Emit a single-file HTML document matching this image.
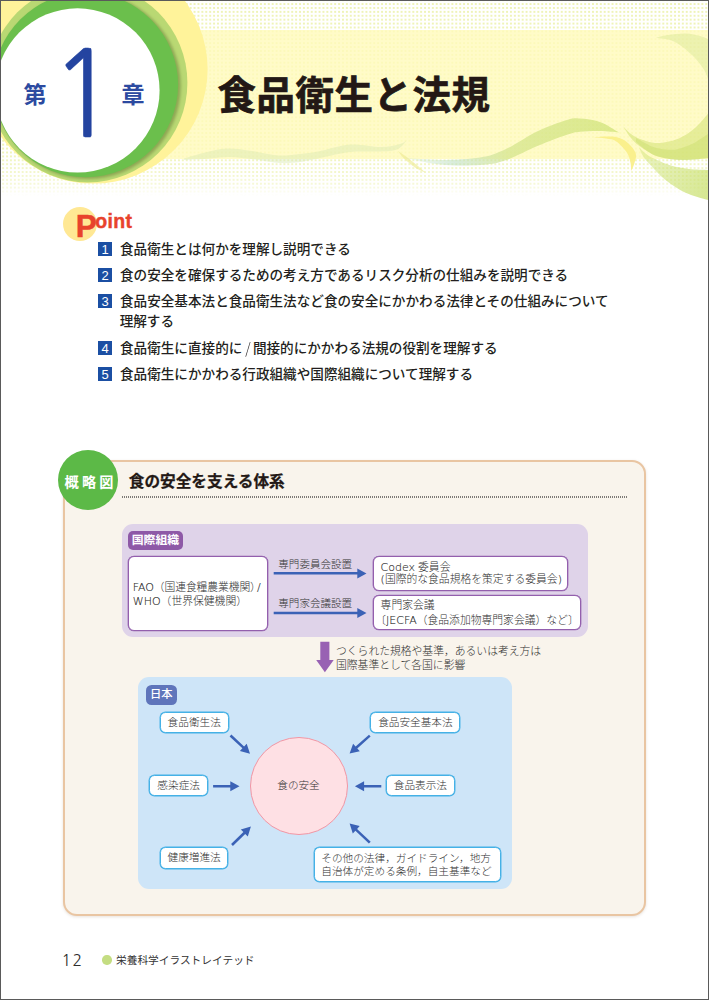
<!DOCTYPE html>
<html lang="ja">
<head>
<meta charset="utf-8">
<title>第1章 食品衛生と法規</title>
<style>
*{margin:0;padding:0;box-sizing:border-box;}
html,body{width:709px;height:1000px;overflow:hidden;background:#fff;}
body{position:relative;font-family:"Liberation Sans","Noto Sans CJK JP",sans-serif;color:#231f20;}
.abs{position:absolute;white-space:nowrap;}
#frame{position:absolute;left:0;top:0;width:709px;height:1000px;border:1px solid #5a5a5a;z-index:50;pointer-events:none;}
/* header */
#hdr{position:absolute;left:0;top:0;width:709px;height:200px;overflow:hidden;}
#dots{position:absolute;left:0;top:0;width:709px;height:196px;
 background-image:radial-gradient(circle at 50% 50%, #e3eb8a 0, #e6ed92 0.45px, rgba(232,238,150,0) 1.15px);
 background-size:3.92px 3.92px;background-position:1.2px 2.1px;
 -webkit-mask-image:linear-gradient(to bottom,#000 0,#000 150px,rgba(0,0,0,0.55) 185px,rgba(0,0,0,0) 196px);
 mask-image:linear-gradient(to bottom,#000 0,#000 150px,rgba(0,0,0,0.55) 185px,rgba(0,0,0,0) 196px);}
#band{position:absolute;left:150px;top:30px;width:559px;height:128.5px;background:rgba(255,250,186,0.8);}
#title{left:217.5px;top:66px;font-size:38.4px;font-weight:700;-webkit-text-stroke:0.7px #231815;line-height:60px;color:#231815;letter-spacing:0.6px;font-family:"Liberation Sans","Noto Sans CJK JP",sans-serif;}
.chap{color:#2c4aa0;font-weight:700;font-size:23px;line-height:31px;}
#one{left:50.3px;top:25.3px;font-size:118.6px;line-height:140px;color:#2444a0;font-family:"NanumGothic","IPAGothic",sans-serif;font-weight:400;transform:scaleX(0.94);transform-origin:0 0;-webkit-text-stroke:0.6px #2444a0;}
/* point */
#pcircle{position:absolute;left:63px;top:207px;width:34px;height:34px;border-radius:50%;background:#ffe894;}
#pP{left:75.8px;top:205.6px;font-size:31.5px;line-height:40px;font-weight:700;color:#e8432c;font-family:"Liberation Sans",sans-serif;transform:scaleX(1.0);transform-origin:0 0;-webkit-text-stroke:0.5px #e8432c;}
#pO{left:95.3px;top:207.6px;font-size:19.5px;line-height:26px;font-weight:700;color:#e8432c;font-family:"Liberation Sans",sans-serif;letter-spacing:0.3px;transform:scaleX(1.0);transform-origin:0 0;-webkit-text-stroke:0.4px #e8432c;}
.li{font-size:13.6px;line-height:20px;font-weight:500;left:120px;color:#231f20;}
.nb{position:absolute;left:98px;width:14px;height:14px;background:#1b4fa3;color:#fff;font-size:13px;line-height:15.6px;text-align:center;font-weight:400;font-family:"Liberation Sans",sans-serif;}
/* panel */
#panel{position:absolute;left:62.8px;top:460px;width:583.4px;height:456px;border:2px solid #e9c5a2;border-radius:14px;background:#f9f4ec;box-shadow:0 1px 3px rgba(120,90,60,0.18);}
#gcircle{position:absolute;left:57.8px;top:450.2px;width:60px;height:60px;border-radius:50%;background:#5cb947;}
#gtext{left:64.6px;top:470.6px;font-size:14.2px;line-height:22px;font-weight:700;color:#fff;letter-spacing:3.1px;}
#ptitle{left:128.8px;top:469.7px;font-size:15.65px;line-height:24px;font-weight:700;color:#231815;-webkit-text-stroke:0.25px #231815;}
#dotline{position:absolute;left:122px;top:496.2px;width:505px;height:1.6px;background:repeating-linear-gradient(to right,#7d7a76 0,#7d7a76 1px,rgba(125,122,118,0) 1px,rgba(125,122,118,0) 2px);}
#purple{position:absolute;left:122px;top:524.4px;width:466.3px;height:113px;border-radius:11px;background:#dfd3e9;}
#blue{position:absolute;left:138px;top:677px;width:373.7px;height:211.5px;border-radius:11px;background:#cee5f8;}
.tag{position:absolute;color:#fff;font-weight:500;font-size:12.2px;line-height:18px;text-align:center;border-radius:3px;}
.pbox{position:absolute;background:#fff;border:1px solid #935fad;border-radius:6px;box-shadow:0 0 0 0.35px #935fad;}
.bbox{position:absolute;background:#fff;border:1px solid #45b1e6;box-shadow:0 0 0 0.45px #45b1e6;border-radius:5.5px;font-size:10.65px;line-height:19.4px;text-align:center;font-weight:300;color:#2f2f2f;white-space:nowrap;}
.t{font-size:10.8px;line-height:14px;font-weight:300;color:#2f2f2f;}
.h{font-feature-settings:"halt" 1;}
.la{font-family:"DejaVu Sans","Liberation Sans",sans-serif;font-weight:200;font-size:11px;-webkit-text-stroke:0.12px #2f2f2f;color:#222;}
.lbl{font-size:10.55px;line-height:14px;font-weight:300;color:#333;}
#pink{position:absolute;left:250px;top:736.8px;width:98px;height:98px;border-radius:50%;background:#fee0e4;border:1.2px solid #f196a4;}
#foot12{left:61.4px;top:949.4px;font-size:15.8px;line-height:22px;font-weight:400;color:#2d2d2d;font-family:"NanumGothic","IPAGothic",sans-serif;letter-spacing:1.5px;}
#fdot{position:absolute;left:102.4px;top:955.3px;width:9.4px;height:9.4px;border-radius:50%;background:#c4dd82;}
#ftext{left:116px;top:951.4px;font-size:10.7px;line-height:18px;font-weight:400;color:#333;}
svg{position:absolute;left:0;top:0;overflow:visible;}
</style>
</head>
<body>
<div id="hdr">
 <div id="dots"></div>
 <div id="band"></div>
 <svg id="hsvg" width="709" height="200" viewBox="0 0 709 200">
  <defs>
   <filter id="sh" x="-20%" y="-20%" width="140%" height="140%"><feGaussianBlur stdDeviation="1.6"/></filter>
   <linearGradient id="sw1" gradientUnits="userSpaceOnUse" x1="400" y1="0" x2="619" y2="0"><stop offset="0" stop-color="#bfe0c8" stop-opacity="0.1"/><stop offset="0.25" stop-color="#bfe0c4" stop-opacity="0.6"/><stop offset="0.5" stop-color="#cbe080" stop-opacity="0.6"/><stop offset="1" stop-color="#c6de68" stop-opacity="0.62"/></linearGradient>
   <linearGradient id="sw3" gradientUnits="userSpaceOnUse" x1="639" y1="150" x2="709" y2="190"><stop offset="0" stop-color="#cbe070" stop-opacity="0.4"/><stop offset="1" stop-color="#c2dc5c" stop-opacity="0.66"/></linearGradient>
  </defs>
  <!-- swooshes -->
  <path d="M184.0 158.5 C187.5 157.5 197.8 154.2 205.0 152.5 C212.2 150.8 219.2 148.8 227.0 148.5 C234.8 148.2 243.5 149.8 252.0 151.0 C260.5 152.2 270.0 155.0 278.0 155.5 C286.0 156.0 293.3 154.7 300.0 154.0 C306.7 153.3 309.7 153.2 318.0 151.6 C326.3 150.0 339.5 145.3 350.0 144.5 C360.5 143.7 372.7 147.1 381.0 147.0 C389.3 146.9 395.7 145.2 400.0 144.0 C404.3 142.8 405.8 140.7 407.0 140.0 C405.3 141.6 401.5 147.7 397.0 149.6 C392.5 151.5 387.8 151.1 380.0 151.5 C372.2 151.9 360.0 150.9 350.0 152.0 C340.0 153.1 328.3 156.3 320.0 158.0 C311.7 159.7 306.7 161.2 300.0 162.0 C293.3 162.8 287.5 163.4 280.0 163.0 C272.5 162.6 263.3 160.5 255.0 159.5 C246.7 158.5 237.5 157.2 230.0 157.0 C222.5 156.8 217.7 158.0 210.0 158.5 C202.3 159.0 188.3 159.8 184.0 160.0 Z" fill="#d6e6b0" opacity="0.42"/>
  <path d="M398.0 151.0 C399.7 152.2 404.7 155.5 408.0 158.0 C411.3 160.5 415.0 163.5 418.0 166.0 C421.0 168.5 424.7 171.8 426.0 173.0 C424.2 172.1 418.7 169.9 415.0 167.5 C411.3 165.1 406.8 161.2 404.0 158.5 C401.2 155.8 399.0 152.2 398.0 151.0 Z" fill="#ece98c" opacity="0.6"/>
  <path d="M400.0 157.0 C406.7 157.5 426.7 159.9 440.0 160.0 C453.3 160.1 469.2 159.2 480.0 157.5 C490.8 155.8 495.3 153.9 505.0 149.5 C514.7 145.1 527.7 135.9 538.0 131.0 C548.3 126.1 560.0 122.1 567.0 120.0 C574.0 117.9 574.5 118.2 580.0 118.5 C585.5 118.8 593.5 119.7 600.0 122.0 C606.5 124.3 615.8 130.7 619.0 132.4 C615.8 132.2 606.5 131.1 600.0 131.0 C593.5 130.9 585.5 131.2 580.0 131.8 C574.5 132.4 574.0 132.5 567.0 134.8 C560.0 137.1 548.3 141.5 538.0 145.8 C527.7 150.1 514.7 157.3 505.0 160.5 C495.3 163.7 490.8 164.3 480.0 165.0 C469.2 165.7 453.3 165.8 440.0 164.5 C426.7 163.2 406.7 158.2 400.0 157.0 Z" fill="url(#sw1)"/>
  <path d="M591.0 137.3 C594.5 137.2 606.2 136.0 612.0 136.6 C617.8 137.2 621.6 138.3 625.5 141.0 C629.4 143.7 634.0 149.0 635.5 152.7 C637.0 156.4 635.2 159.9 634.5 163.0 C633.8 166.1 631.6 169.7 631.0 171.0 C630.9 169.7 631.2 166.1 630.5 163.0 C629.8 159.9 629.4 156.3 627.0 152.7 C624.6 149.1 619.9 143.9 616.4 141.5 C612.9 139.1 610.2 139.2 606.0 138.5 C601.8 137.8 593.5 137.5 591.0 137.3 Z" fill="#faee86" opacity="0.9"/>
  <path d="M656.0 37.7 C658.0 37.2 663.0 35.7 668.0 35.0 C673.0 34.3 680.7 33.3 686.0 33.5 C691.3 33.7 696.0 34.9 700.0 36.0 C704.0 37.1 708.3 39.3 710.0 40.0 L710.0 86.0  C709.1 83.5 707.6 76.0 704.6 70.8 C701.6 65.6 697.1 59.9 692.0 55.0 C686.9 50.1 680.0 44.4 674.0 41.5 C668.0 38.6 659.0 38.3 656.0 37.7 Z" fill="#d5e490" opacity="0.42"/>
  <path d="M623.3 126.4 C624.6 127.7 628.2 131.9 631.0 134.0 C633.8 136.1 636.5 137.6 640.0 139.0 C643.5 140.4 648.3 141.9 652.0 142.5 C655.7 143.1 658.0 143.2 662.0 142.7 C666.0 142.2 671.5 141.2 676.0 139.5 C680.5 137.8 685.0 135.4 689.0 132.7 C693.0 129.9 696.5 126.6 700.0 123.0 C703.5 119.4 708.3 113.0 710.0 111.0 L710.0 158.0  C705.3 158.3 690.7 160.3 682.0 160.0 C673.3 159.7 665.0 158.7 658.0 156.4 C651.0 154.1 644.5 149.5 640.0 146.4 C635.5 143.3 633.8 141.3 631.0 138.0 C628.2 134.7 624.6 128.3 623.3 126.4 Z" fill="#cde06c" opacity="0.5"/>
  <path d="M636.0 138.0 C638.7 139.4 647.0 144.6 652.0 146.5 C657.0 148.4 661.7 149.1 666.0 149.5 C670.3 149.9 673.3 150.1 678.0 149.0 C682.7 147.9 688.7 145.7 694.0 143.0 C699.3 140.3 707.3 134.4 710.0 132.7 L710.0 158.0  C705.3 158.3 690.7 160.3 682.0 160.0 C673.3 159.7 663.7 157.8 658.0 156.4 C652.3 155.0 651.7 153.9 648.0 151.5 C644.3 149.1 638.0 143.6 636.0 142.0 Z" fill="#bfd95c" opacity="0.33"/>
  <path d="M639.0 147.3 C640.0 148.2 642.7 151.2 645.0 153.0 C647.3 154.8 648.4 155.9 652.7 158.0 C657.0 160.1 665.0 163.7 671.0 165.5 C677.0 167.3 682.5 168.2 689.0 169.0 C695.5 169.8 706.5 169.8 710.0 170.0 L710.0 200.5  C705.9 199.2 692.9 196.1 685.5 192.7 C678.1 189.3 671.6 184.8 665.5 180.0 C659.4 175.2 652.8 167.6 649.0 163.6 C645.2 159.6 644.7 158.7 643.0 156.0 C641.3 153.3 639.7 148.8 639.0 147.3 Z" fill="url(#sw3)"/>
  </svg>
 <svg id="csvg" width="709" height="200" viewBox="0 0 709 200">
  <!-- circles -->
  <circle cx="93.2" cy="69.2" r="114.4" fill="#fff39a"/>
  <circle cx="87.8" cy="82.8" r="99.6" fill="#b9d873"/>
  <circle cx="87.8" cy="86" r="93" fill="#6b7f3a" opacity="0.55" filter="url(#sh)"/>
  <circle cx="85.6" cy="84.8" r="92.5" fill="#6bbf4c"/>
  <circle cx="77.5" cy="90.4" r="82.1" fill="#fff"/>
 </svg>
 <div class="abs chap" style="left:23.5px;top:80px;">第</div>
 <div class="abs" id="one">1</div>
 <div class="abs chap" style="left:121.5px;top:80px;">章</div>
 <div class="abs" id="title">食品衛生と法規</div>
</div>

<!-- Point -->
<div id="pcircle"></div>
<div class="abs" id="pP">P</div>
<div class="abs" id="pO">oint</div>
<div class="nb" style="top:241.8px;">1</div><div class="abs li" style="top:239.7px;">食品衛生とは何かを理解し説明できる</div>
<div class="nb" style="top:268.3px;">2</div><div class="abs li" style="top:266.2px;">食の安全を確保するための考え方であるリスク分析の仕組みを説明できる</div>
<div class="nb" style="top:293.8px;">3</div><div class="abs li" style="top:291.7px;">食品安全基本法と食品衛生法など食の安全にかかわる法律とその仕組みについて</div>
<div class="abs li" style="top:312.2px;left:119.7px;">理解する</div>
<div class="nb" style="top:340.8px;">4</div><div class="abs li" style="top:337.1px;">食品衛生に直接的に<span style="font-family:'Noto Sans CJK JP',sans-serif;font-weight:300;font-size:13.6px;display:inline-block;transform:scaleY(1.12);padding:0 2.4px 0 2.8px;">/</span>間接的にかかわる法規の役割を理解する</div>
<div class="nb" style="top:366.8px;">5</div><div class="abs li" style="top:364.7px;">食品衛生にかかわる行政組織や国際組織について理解する</div>

<!-- Panel -->
<div id="panel"></div>
<div id="gcircle"></div>
<div class="abs" id="gtext">概略図</div>
<div class="abs" id="ptitle">食の安全を支える体系</div>
<div id="dotline"></div>

<div id="purple"></div>
<div class="tag" style="left:128.2px;top:530.7px;width:54.6px;height:19.1px;line-height:18.8px;font-size:11.9px;font-weight:700;letter-spacing:0;border-radius:5px;background:#8e59a7;">国際組織</div>
<div class="pbox" style="left:127.7px;top:556px;width:140.8px;height:74.6px;"></div>
<div class="abs t" style="left:132.8px;top:580px;letter-spacing:-0.1px;"><span class="la">FAO</span>（国連食糧農業機関<span class="h">）</span><span class="la" style="margin-left:1.5px;">/</span></div>
<div class="abs t" style="left:132.8px;top:594px;"><span class="la">WHO</span>（世界保健機関）</div>
<div class="abs lbl" style="left:278.3px;top:556.9px;">専門委員会設置</div>
<div class="abs lbl" style="left:278.3px;top:596.3px;">専門家会議設置</div>
<div class="pbox" style="left:372.6px;top:556px;width:195.4px;height:34.8px;"></div>
<div class="abs t" style="left:380.6px;top:560px;"><span class="la">Codex</span> 委員会</div>
<div class="abs t" style="left:380.6px;top:572px;"><span class="la">(</span>国際的な食品規格を策定する委員会<span class="la">)</span></div>
<div class="pbox" style="left:372.6px;top:595.2px;width:208.4px;height:35px;"></div>
<div class="abs t" style="left:380.6px;top:598px;">専門家会議</div>
<div class="abs t" style="left:380.6px;top:612.6px;letter-spacing:0px;"><span class="h">〔</span><span class="la">JECFA</span>（食品添加物専門家会議）など<span class="h">〕</span></div>

<div class="abs t" style="left:336px;top:643.5px;">つくられた規格や基準，あるいは考え方は</div>
<div class="abs t" style="left:336px;top:657.5px;">国際基準として各国に影響</div>

<div id="blue"></div>
<div class="tag" style="left:145.6px;top:685px;width:31.4px;height:19.7px;background:#5f75bb;line-height:19.6px;font-size:11.3px;font-weight:500;border-radius:5.5px;">日本</div>
<div class="bbox" style="left:159.8px;top:711.6px;width:68.8px;height:21px;">食品衛生法</div>
<div class="bbox" style="left:149.3px;top:774.5px;width:58.7px;height:21.5px;">感染症法</div>
<div class="bbox" style="left:159.8px;top:847.3px;width:68.6px;height:21.4px;">健康増進法</div>
<div class="bbox" style="left:370.4px;top:711.6px;width:90px;height:21px;">食品安全基本法</div>
<div class="bbox" style="left:386px;top:774.5px;width:68.8px;height:21.6px;">食品表示法</div>
<div class="bbox" style="left:314px;top:846.7px;width:186.7px;height:35.8px;line-height:12.6px;padding-top:4.4px;text-align:left;padding-left:6.3px;">その他の法律，ガイドライン，地方<br>自治体が定める条例，自主基準など</div>
<div id="pink"></div>
<div class="abs" style="left:277.3px;top:775.6px;font-size:10.6px;line-height:18px;font-weight:300;color:#2f2f2f;">食の安全</div>

<svg id="dsvg" width="709" height="1000" viewBox="0 0 709 1000" style="z-index:5;">
 <g fill="#3b62b6" stroke="none">
  <path d="M273.7 574.6 L357.3 574.6 L357.3 578.4 L366.5 573.4 L357.3 568.4 L357.3 572.1 L273.7 572.1 Z"/>
  <path d="M273.7 614.2 L357.3 614.2 L357.3 618.0 L366.5 613.0 L357.3 608.0 L357.3 611.8 L273.7 611.8 Z"/>
  <path d="M229.6 736.4 L242.4 748.3 L239.9 751.1 L250.0 753.7 L246.7 743.8 L244.1 746.5 L231.4 734.6 Z"/>
  <path d="M213.1 787.5 L230.3 787.5 L230.3 791.3 L239.5 786.3 L230.3 781.3 L230.3 785.0 L213.1 785.0 Z"/>
  <path d="M232.9 845.9 L245.2 833.9 L247.8 836.6 L250.9 826.6 L240.8 829.4 L243.4 832.1 L231.1 844.1 Z"/>
  <path d="M369.0 734.7 L355.6 746.5 L353.1 743.7 L349.6 753.6 L359.8 751.2 L357.3 748.4 L370.6 736.5 Z"/>
  <path d="M381.3 785.0 L364.1 785.0 L364.1 781.2 L354.9 786.2 L364.1 791.2 L364.1 787.5 L381.3 787.5 Z"/>
  <path d="M370.7 841.8 L357.1 828.9 L359.7 826.1 L349.6 823.4 L352.8 833.4 L355.4 830.7 L368.9 843.6 Z"/>
 </g>
 <path d="M320.3 641.7 L329.4 641.7 L329.4 660 L333.7 660 L324.9 672.3 L316.2 660 L320.3 660 Z" fill="#9861b3"/>
</svg>

<div class="abs" id="foot12">12</div>
<div id="fdot"></div>
<div class="abs" id="ftext">栄養科学イラストレイテッド</div>
<div id="frame"></div>
</body>
</html>
